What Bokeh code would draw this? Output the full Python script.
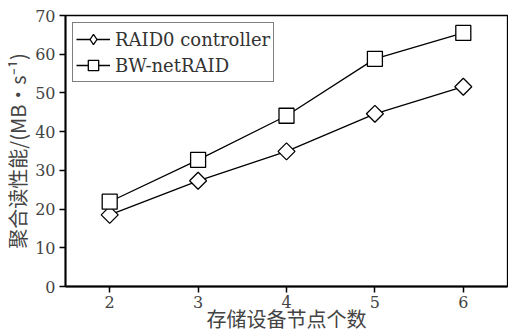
import math
from bokeh.plotting import figure
from bokeh.models import Range1d, Legend, LegendItem
from bokeh.embed import file_html
from bokeh.resources import INLINE

nodes = [2, 3, 4, 5, 6]
raid0 = [18.5, 27.3, 34.9, 44.6, 51.6]
bw_netraid = [21.9, 32.7, 44.1, 58.8, 65.5]
y_ticks = [0, 10, 20, 30, 40, 50, 60, 70]

SERIF = "DejaVu Serif"
CJK = "Noto Sans CJK SC"

p = figure(width=508, height=335, output_backend="svg", toolbar_location=None,
           x_range=Range1d(1.5, 6.5), y_range=Range1d(0, 70),
           min_border_left=61, min_border_right=1, min_border_top=15, min_border_bottom=0)
p.xgrid.visible = False
p.ygrid.visible = False
p.outline_line_color = "black"
p.outline_line_width = 1.3

p.xaxis.ticker = nodes
p.yaxis.ticker = y_ticks
for ax in (p.xaxis[0], p.yaxis[0]):
    ax.axis_line_width = 2
    ax.major_tick_line_width = 1.5
    ax.major_tick_out = 6
    ax.major_tick_in = 0
    ax.minor_tick_line_color = None
    ax.major_label_text_font = SERIF
    ax.major_label_text_font_size = "16px"
    ax.major_label_text_color = "#444444"
    ax.axis_label_text_font = CJK
    ax.axis_label_text_font_size = "20px"
    ax.axis_label_text_font_style = "normal"
    ax.axis_label_text_color = "#444444"
p.xaxis.major_label_standoff = 3
p.yaxis.major_label_standoff = 4
p.xaxis.axis_label = "存储设备节点个数"
p.xaxis.axis_label_standoff = -7
p.yaxis.axis_label = "聚合读性能/(MB•s⁻¹)"
p.yaxis.axis_label_standoff = 0

nan = float("nan")
l1 = p.line(nodes, raid0, line_color="black", line_width=1.3)
m1 = p.scatter(nodes, raid0, marker="square", size=12, angle=math.pi / 4,
               fill_color="white", line_color="black", line_width=1.3)
d1 = p.scatter(x=[nan], y=[nan], marker="diamond", size=14,
               fill_color="white", line_color="black", line_width=1.3)
l2 = p.line(nodes, bw_netraid, line_color="black", line_width=1.3)
m2 = p.scatter(nodes, bw_netraid, marker="square", size=15, fill_color="white",
               line_color="black", line_width=1.3)

legend = Legend(items=[LegendItem(label="RAID0 controller", renderers=[l1, d1]),
                       LegendItem(label="BW-netRAID", renderers=[l2, m2])],
                location="top_left")
legend.label_text_font = SERIF
legend.label_text_font_size = "18px"
legend.label_text_color = "#333333"
legend.border_line_color = "black"
legend.border_line_width = 1.3
legend.glyph_width = 34
legend.glyph_height = 26
legend.label_standoff = 5
legend.spacing = 0
legend.padding = 3
legend.margin = 7
legend.background_fill_alpha = 1
p.add_layout(legend)

open("out.html", "w").write(file_html(p, INLINE))
